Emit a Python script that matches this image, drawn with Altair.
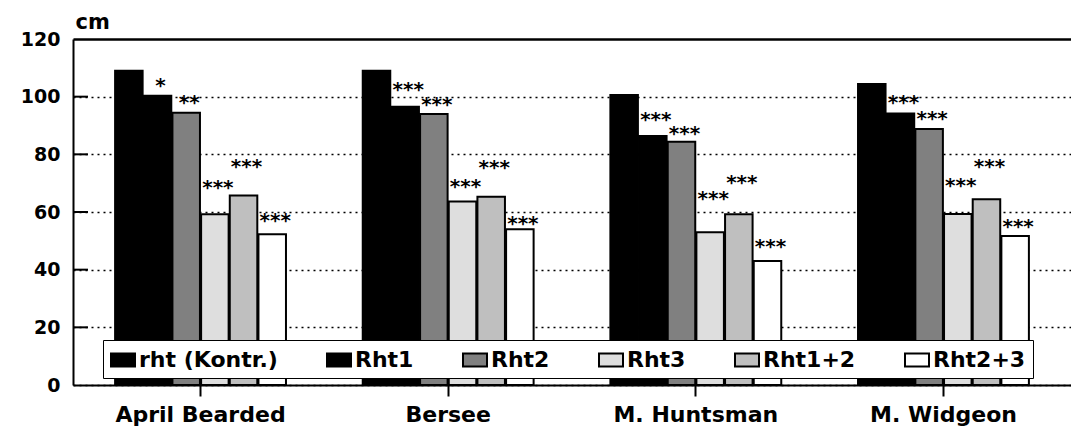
import altair as alt
import pandas as pd

varieties = ["April Bearded", "Bersee", "M. Huntsman", "M. Widgeon"]
series = ["rht (Kontr.)", "Rht1", "Rht2", "Rht3", "Rht1+2", "Rht2+3"]
colors = ["#000000", "#000000", "#808080", "#dedede", "#bfbfbf", "#ffffff"]
outline = ["#000000"] * 6

# plant height (cm) per variety, in series order
april_bearded = [109.0, 100.3, 94.4, 59.2, 65.7, 52.3]
bersee = [109.0, 96.5, 94.0, 63.6, 65.3, 54.0]
m_huntsman = [100.6, 86.4, 84.4, 53.0, 59.2, 43.0]
m_widgeon = [104.4, 94.2, 88.8, 59.3, 64.4, 51.7]

# significance marks and the height (cm) at which they are printed
stars_april = ["", "*", "**", "***", "***", "***"]
stars_other = ["", "***", "***", "***", "***", "***"]
star_y_april = [0, 105.1, 99.2, 69.7, 77.0, 58.3]
star_y_bersee = [0, 103.7, 98.6, 70.0, 76.5, 57.2]
star_y_hunts = [0, 93.3, 88.4, 65.9, 71.3, 49.4]
star_y_widg = [0, 99.1, 93.7, 70.5, 76.9, 56.3]

y_ticks = [0, 20, 40, 60, 80, 100, 120]

FONT = "DejaVu Sans"

heights = [april_bearded, bersee, m_huntsman, m_widgeon]
stars = [stars_april, stars_other, stars_other, stars_other]
star_ys = [star_y_april, star_y_bersee, star_y_hunts, star_y_widg]

rows = []
for v, hs, ss, sy in zip(varieties, heights, stars, star_ys):
    for s, h, st, y in zip(series, hs, ss, sy):
        rows.append({"variety": v, "series": s, "height": h, "stars": st, "star_y": y})
df = pd.DataFrame(rows)
star_df = df[df["stars"] != ""]
tick_df = pd.DataFrame({"tick": [t for t in y_ticks if 0 < t < 120]})

legend_props = dict(
    title=None, orient="none", legendX=30, legendY=301,
    direction="horizontal", columns=6, columnPadding=45,
    fillColor="white", strokeColor="black", padding=7,
    symbolType="M-1,-0.55L1,-0.55L1,0.55L-1,0.55Z", symbolSize=576,
    symbolStrokeColor="black", symbolStrokeWidth=2, symbolOpacity=1,
    labelFont=FONT, labelFontSize=22, labelFontWeight="bold",
    labelColor="black", labelOffset=3, labelLimit=400,
)

x_enc = alt.X(
    "variety:N",
    sort=varieties,
    scale=alt.Scale(domain=varieties, paddingInner=0.31, paddingOuter=0.17),
    axis=alt.Axis(
        title=None, labelAngle=0, labelFont=FONT, labelFontSize=22,
        labelFontWeight="bold", labelColor="black", labelPadding=8,
        domainColor="black", domainWidth=2, tickColor="black", tickWidth=2,
        tickSize=11, grid=False,
    ),
)
xoff_enc = alt.XOffset("series:N", sort=series,
                       scale=alt.Scale(domain=series, paddingInner=0.04))
y_scale = alt.Scale(domain=[0, 120], nice=False)

bars = alt.Chart(df).mark_bar(strokeWidth=2).encode(
    x=x_enc,
    xOffset=xoff_enc,
    y=alt.Y(
        "height:Q", scale=y_scale,
        axis=alt.Axis(
            values=y_ticks, title="cm", titleAngle=0, titleX=2, titleY=-11,
            titleAlign="left", titleBaseline="alphabetic", titleFont=FONT,
            titleFontSize=21, titleFontWeight="bold", titleColor="black",
            labelFont=FONT, labelFontSize=19, labelFontWeight="bold",
            labelColor="black", labelPadding=13, ticks=False,
            domainColor="black", domainWidth=2,
            grid=True, gridColor="black",
            gridDash=alt.condition("datum.value == 120", alt.value([]), alt.value([2, 4])),
            gridWidth=alt.condition("datum.value == 120", alt.value(2.5), alt.value(1.5)),
        ),
    ),
    fill=alt.Fill(
        "series:N", sort=series,
        scale=alt.Scale(domain=series, range=colors),
        legend=alt.Legend(**legend_props),
    ),
    stroke=alt.Stroke(
        "series:N", sort=series,
        scale=alt.Scale(domain=series, range=outline),
        legend=alt.Legend(**legend_props),
    ),
)

star_text = alt.Chart(star_df).mark_text(
    font=FONT, fontSize=20, fontWeight="bold", color="black",
    baseline="middle", dy=4, dx=3,
).encode(
    x=alt.X("variety:N", sort=varieties),
    xOffset=alt.XOffset("series:N", sort=series),
    y=alt.Y("star_y:Q", scale=y_scale),
    text="stars:N",
)

inner_ticks = alt.Chart(tick_df).mark_rule(color="black", strokeWidth=2).encode(
    y=alt.Y("tick:Q", scale=y_scale),
    x=alt.value(0),
    x2=alt.value(15),
)

chart = alt.layer(bars, star_text, inner_ticks).properties(
    width=998, height=346,
    autosize=alt.AutoSizeParams(type="none"),
    padding={"left": 73, "top": 39, "right": 0, "bottom": 41},
).configure_view(stroke=None).configure(background="white")

chart.save("out.html", embed_options={"renderer": "svg", "actions": False})
